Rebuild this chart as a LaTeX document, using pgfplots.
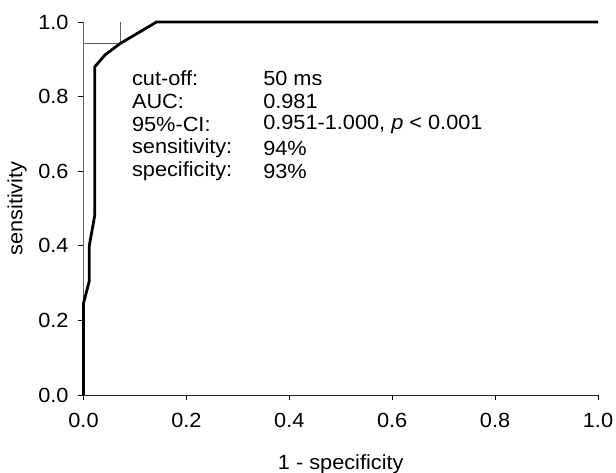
\documentclass[border=0pt]{standalone}
\usepackage{fontspec}
\setmainfont{Liberation Sans}[FakeStretch=1.06]
\usepackage{pgfplots}
\pgfplotsset{compat=1.18}
\definecolor{axgray}{RGB}{100,100,100}

\begin{document}
\fontsize{20.5}{24}\selectfont
\begin{tikzpicture}
\useasboundingbox (-83.5pt,-78pt) rectangle (532.5pt,395pt);
\begin{axis}[
    at={(0pt,0pt)}, anchor=origin,
    scale only axis, width=514.5pt, height=373pt,
    xmin=0, xmax=1, ymin=0, ymax=1,
    axis lines*=left,
    clip=false,
    xtick={0,0.2,...,1.0}, ytick={0,0.2,...,1.0},
    tick align=outside, major tick length=5pt,
    tick style={black, line width=0.7pt},
    x axis line style={black!85, line width=0.7pt},
    y axis line style={axgray, line width=0.9pt},
    /pgf/number format/assume math mode=true,
    /pgf/number format/.cd, fixed, fixed zerofill, precision=1, /pgfplots/.cd,
    ticklabel style={font=\fontsize{20.5}{24}\selectfont},
    xticklabel style={yshift=-6pt},
    yticklabel style={xshift=-3pt},
    xlabel={1 - specificity}, ylabel={sensitivity},
    every axis x label/.style={at={(axis description cs:0.5,0)}, yshift=-69pt, anchor=center},
    every axis y label/.style={at={(axis description cs:0,0.5)}, xshift=-66.5pt, anchor=center, rotate=90},
    label style={font=\fontsize{20.5}{24}\selectfont},
]
% cut-off marker lines
\addplot[axgray, line width=0.9pt] coordinates {(0.071,1.0) (0.071,0.942)};
\addplot[axgray, line width=0.9pt] coordinates {(0,0.942) (0.071,0.942)};
% ROC curve
\addplot[black, line width=2.8pt, line join=round] coordinates {
  (0,0) (0,0.246) (0.011,0.304) (0.011,0.398) (0.022,0.483)
  (0.022,0.880) (0.042,0.912) (0.071,0.942) (0.142,1.0) (1.0,1.0)
};
\begin{scope}[every node/.style={anchor=west, inner sep=0pt}]
\node at (axis cs:0.094,0.850) {cut-off:};
\node at (axis cs:0.094,0.787) {AUC:};
\node at (axis cs:0.094,0.724) {95\%-CI:};
\node at (axis cs:0.094,0.662) {sensitivity:};
\node at (axis cs:0.094,0.600) {specificity:};
\node at (axis cs:0.349,0.850) {50 ms};
\node at (axis cs:0.349,0.787) {0.981};
\node at (axis cs:0.349,0.724) {0.951-1.000, \textit{p} < 0.001};
\node at (axis cs:0.349,0.662) {94\%};
\node at (axis cs:0.349,0.600) {93\%};
\end{scope}
\end{axis}
\end{tikzpicture}
\end{document}
